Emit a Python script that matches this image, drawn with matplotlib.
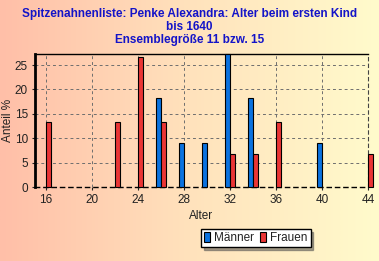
import numpy as np
import matplotlib.pyplot as plt
from matplotlib.colors import LinearSegmentedColormap

title = "Spitzenahnenliste: Penke Alexandra: Alter beim ersten Kind\nbis 1640\nEnsemblegröße 11 bzw. 15"

men_age = [26, 28, 30, 32, 34, 40]
men_pct = [18.18, 9.09, 9.09, 27.27, 18.18, 9.09]
women_age = [16, 22, 24, 26, 32, 34, 36, 44]
women_pct = [13.33, 13.33, 26.67, 13.33, 6.67, 6.67, 13.33, 6.67]
xticks = [16, 20, 24, 28, 32, 36, 40, 44]
yticks = [0, 5, 10, 15, 20, 25]

W, H = 379, 261
fig = plt.figure(figsize=(W / 100, H / 100), dpi=100)

# background gradient salmon -> light yellow
bg = fig.add_axes([0, 0, 1, 1], zorder=-10)
cmap = LinearSegmentedColormap.from_list("bg", ["#ffbfa8", "#ffe2bc", "#fffbcc"])
bg.imshow(np.linspace(0, 1, 256).reshape(1, -1), aspect="auto", cmap=cmap,
          extent=[0, 1, 0, 1])
bg.axis("off")

fig.text(0.5, 1 - 8 / H, title, ha="center", va="top", color="#1414c8",
         fontsize=8.5, fontweight="bold", family="Liberation Sans", linespacing=1.12)

ax = fig.add_axes([35 / W, 1 - 187 / H, 333 / W, 133 / H])
ax.patch.set_alpha(0)

ax.bar(men_age, men_pct, width=-0.45, align="edge", color="#0a72e0",
       edgecolor="black", linewidth=0.8, zorder=3, label="Männer", clip_on=False)
ax.bar(women_age, women_pct, width=0.45, align="edge", color="#ea3535",
       edgecolor="black", linewidth=0.8, zorder=3, label="Frauen", clip_on=False)

ax.set_xlim(15.04, 44)
ax.set_ylim(0, 27.27)
ax.set_xticks(xticks)
ax.set_yticks(yticks)
ax.tick_params(labelsize=8.5, length=2, colors="#222222", pad=3)
for lab in ax.get_xticklabels() + ax.get_yticklabels():
    lab.set_family("Liberation Sans")

ax.grid(True, color="#6e6e6e", linestyle=(0, (3, 3)), linewidth=0.7, zorder=1)
ax.spines["left"].set_linewidth(2)
ax.spines["top"].set_linewidth(1)
ax.spines["right"].set_linestyle((0, (3, 3)))
ax.spines["right"].set_linewidth(0.8)
ax.spines["right"].set_color("#444444")
ax.spines["bottom"].set_linestyle((0, (3, 3)))
ax.spines["bottom"].set_linewidth(1)

ax.set_xlabel("Alter", fontsize=8.5, family="Liberation Sans", labelpad=3,
              color="#222222")
ax.set_ylabel("Anteil %", fontsize=8.5, family="Liberation Sans",
              color="#222222")
ax.yaxis.set_label_coords((14 - 35) / 333, 0.5)

leg = fig.legend(loc="center", bbox_to_anchor=(256 / W, 1 - 238 / H),
                 ncol=2, prop={"family": "Liberation Sans", "size": 8.5},
                 frameon=True, fancybox=False, shadow=True, edgecolor="black",
                 handlelength=0.45, handleheight=1.0, handletextpad=0.4,
                 columnspacing=0.5, borderpad=0.25, borderaxespad=0)
leg.get_frame().set_linewidth(1)
for t in leg.get_texts():
    t.set_color("#222222")

fig.savefig("out.png", dpi=100)
